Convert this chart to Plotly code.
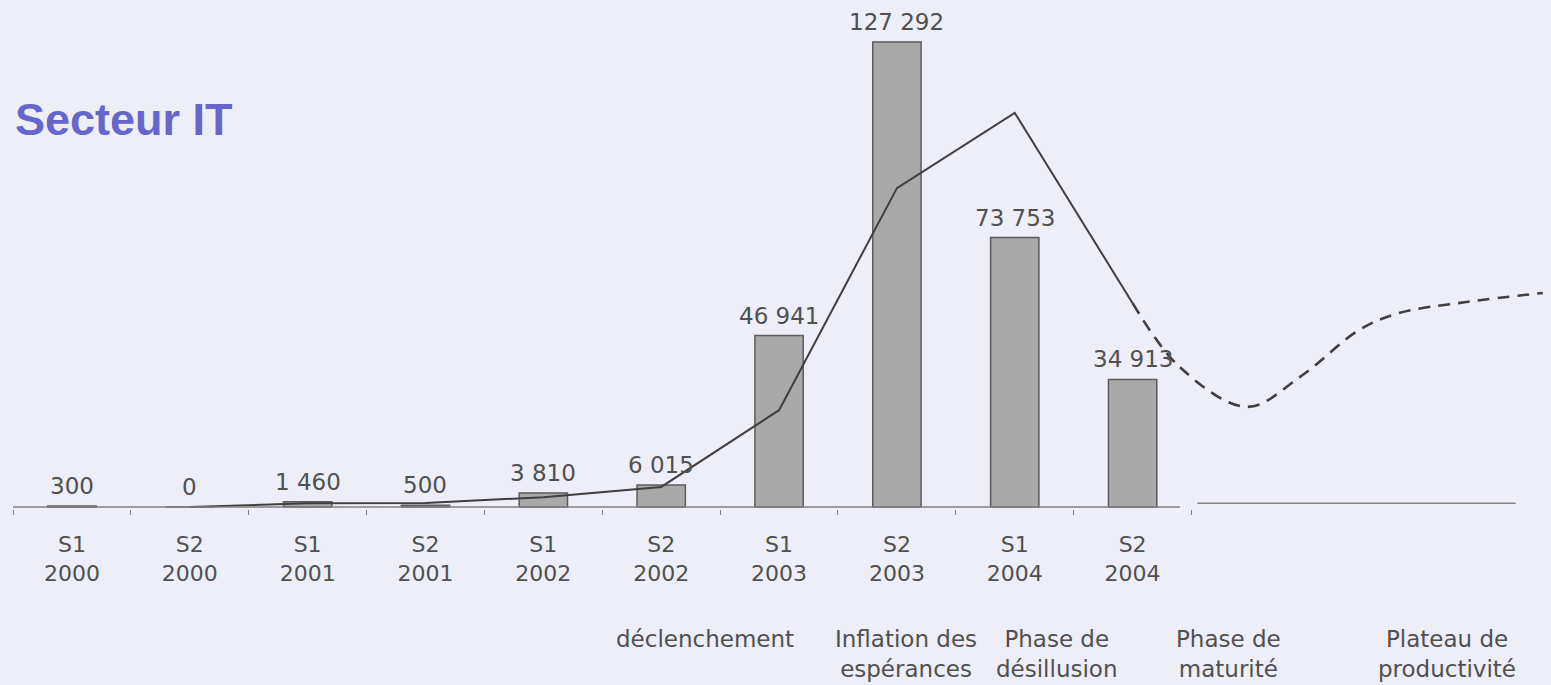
import plotly.graph_objects as go

# ---- data ----
categories = ["S1<br>2000", "S2<br>2000", "S1<br>2001", "S2<br>2001", "S1<br>2002",
              "S2<br>2002", "S1<br>2003", "S2<br>2003", "S1<br>2004", "S2<br>2004"]
bar_values = [300, 0, 1460, 500, 3810, 6015, 46941, 127292, 73753, 34913]

curve_x = [1, 2, 3, 4, 5, 6, 7, 8, 9]
curve_y = [0, 1000, 1100, 2700, 5500, 26500, 87300, 107900, 55800]

# hype curve (dashed, projected part)
proj_x = [9.0, 9.40, 9.97, 10.42, 10.92, 11.26, 11.83, 12.48]
proj_y = [55800, 38300, 27400, 35600, 48400, 53100, 56100, 58600]

phase_labels = ["déclenchement", "Inflation des<br>espérances", "Phase de<br>désillusion",
                "Phase de<br>maturité", "Plateau de<br>productivité"]
phase_pos = [5.37, 7.08, 8.36, 9.81, 11.67]

title_text = "Secteur IT"

# ---- figure ----
xs = list(range(len(categories)))
TXT = "#505050"
FONT = "DejaVu Sans, Verdana, sans-serif"

fig = go.Figure()
fig.add_trace(go.Bar(
    x=xs, y=bar_values, width=0.41,
    marker=dict(color="#a9a9a9", line=dict(color="#5c5c5c", width=1.5)),
    hoverinfo="y", showlegend=False,
))
fig.add_trace(go.Scatter(
    x=curve_x, y=curve_y, mode="lines",
    line=dict(color="#3f3f3f", width=2), showlegend=False,
))
fig.add_trace(go.Scatter(
    x=proj_x, y=proj_y, mode="lines",
    line=dict(color="#3f3f3f", width=2.6, dash="12px,8px", shape="spline", smoothing=1.0),
    showlegend=False,
))

annotations = []
for x, v in zip(xs, bar_values):
    annotations.append(dict(
        x=x, y=v, xref="x", yref="y", text=f"{v:,}".replace(",", " "),
        showarrow=False, yanchor="bottom", yshift=5,
        font=dict(family=FONT, size=23, color=TXT),
    ))
for x, t in zip(phase_pos, phase_labels):
    annotations.append(dict(
        x=x, y=-0.226, xref="x", yref="paper", text=t, showarrow=False,
        yanchor="top", xanchor="center",
        font=dict(family=FONT, size=23, color=TXT),
    ))
annotations.append(dict(
    x=0, y=0.765, xref="paper", yref="paper", text=f"<b>{title_text}</b>",
    showarrow=False, xanchor="left", yanchor="middle", xshift=0,
    font=dict(family="Liberation Sans, Arial, sans-serif", size=45, color="#6666cc"),
))

shapes = [
    dict(type="line", xref="x", yref="y", x0=-0.5, x1=9.4, y0=0, y1=0,
         line=dict(color="#808080", width=1.5)),
    dict(type="line", xref="x", yref="y", x0=9.55, x1=12.25, y0=1000, y1=1000,
         line=dict(color="#808080", width=1.5)),
]

fig.update_layout(
    width=1551, height=685,
    margin=dict(l=13, r=0, t=0, b=176),
    paper_bgcolor="#edeef8", plot_bgcolor="#edeef8",
    bargap=0.6,
    xaxis=dict(
        range=[-0.5, 12.55], tickmode="array", tickvals=xs, ticktext=categories,
        showgrid=False, zeroline=False, showline=False, ticks="",
        tickfont=dict(family=FONT, size=22, color=TXT),
        ticklabelstandoff=20,
        minor=dict(tickmode="array", tickvals=[-0.5 + i for i in range(11)],
                   ticks="outside", ticklen=5, tickcolor="#808080", showgrid=False),
    ),
    yaxis=dict(range=[-547, 138790], visible=False, showgrid=False, zeroline=False),
    annotations=annotations, shapes=shapes,
    showlegend=False,
)

fig.write_html("out.html", config={"displayModeBar": False},
               post_script="document.body.style.margin='0';document.body.style.background='#edeef8';")
